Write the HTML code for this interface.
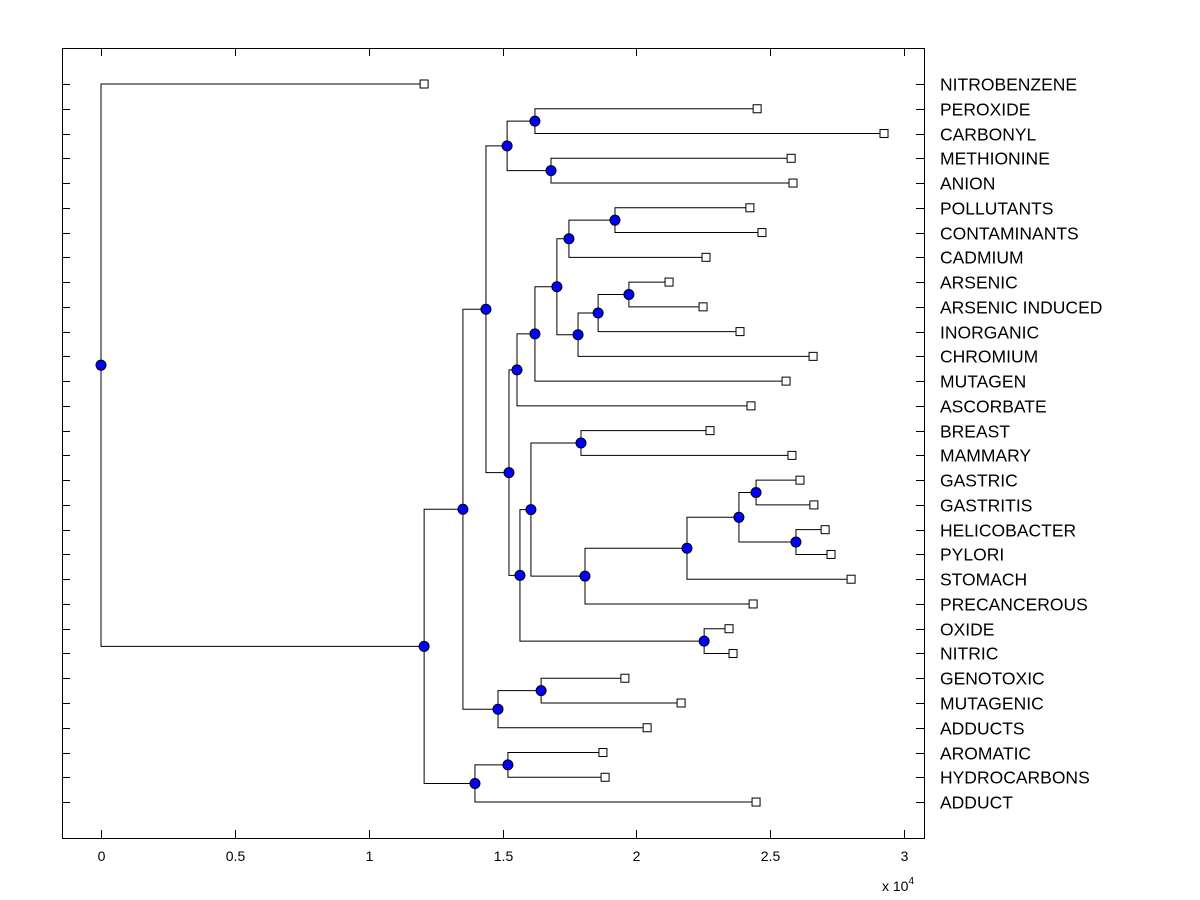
<!DOCTYPE html>
<html><head><meta charset="utf-8"><style>
html,body{margin:0;padding:0;background:#fff;}
svg{display:block;font-family:"Liberation Sans",Arial,sans-serif;}
</style></head><body>
<svg id="chart" width="1200" height="900" viewBox="0 0 1200 900" xmlns="http://www.w3.org/2000/svg">
<rect x="0" y="0" width="1200" height="900" fill="#fff"/>
<rect x="62.5" y="48.5" width="862" height="790" fill="#fff" stroke="#000" stroke-width="1"/>
<g id="axes"></g>
<g id="links"></g>
<g id="marks"></g>
<g id="labels"></g>
</svg>
<script>
const leafNames = ["NITROBENZENE","PEROXIDE","CARBONYL","METHIONINE","ANION","POLLUTANTS","CONTAMINANTS","CADMIUM","ARSENIC","ARSENIC INDUCED","INORGANIC","CHROMIUM","MUTAGEN","ASCORBATE","BREAST","MAMMARY","GASTRIC","GASTRITIS","HELICOBACTER","PYLORI","STOMACH","PRECANCEROUS","OXIDE","NITRIC","GENOTOXIC","MUTAGENIC","ADDUCTS","AROMATIC","HYDROCARBONS","ADDUCT"];
const leafValues = [1.207,2.451,2.925,2.578,2.585,2.424,2.469,2.260,2.122,2.249,2.387,2.660,2.559,2.428,2.275,2.581,2.611,2.663,2.705,2.727,2.802,2.436,2.346,2.361,1.957,2.167,2.040,1.875,1.883,2.447];
// merges: [childA, childB] ; "L#" leaf index, "N#" merge index
const mergeChildren = [
 ["L1","L2"],["L3","L4"],["N0","N1"],["L5","L6"],["N3","L7"],
 ["L8","L9"],["N5","L10"],["N6","L11"],["N4","N7"],["N8","L12"],
 ["N9","L13"],["L14","L15"],["L16","L17"],["L18","L19"],["N12","N13"],
 ["N14","L20"],["N15","L21"],["L22","L23"],["N11","N16"],["N18","N17"],
 ["N10","N19"],["N2","N20"],["L24","L25"],["N22","L26"],["N21","N23"],
 ["L27","L28"],["N25","L29"],["N24","N26"],["L0","N27"]
];
const mergeHeights = [1.621,1.681,1.517,1.920,1.748,1.972,1.857,1.782,1.703,1.621,1.554,1.793,2.447,2.596,2.383,2.189,1.808,2.253,1.606,1.565,1.524,1.438,1.644,1.483,1.352,1.520,1.397,1.207,0];
const xTicks = [0,0.5,1,1.5,2,2.5,3];
const xTickLabels = ["0","0.5","1","1.5","2","2.5","3"];

const NS="http://www.w3.org/2000/svg";
const xS = v => 101 + v*267.7;
const yS = i => 84 + i*24.76;
function mk(tag, attrs, parent){const e=document.createElementNS(NS,tag);for(const k in attrs)e.setAttribute(k,attrs[k]);parent.appendChild(e);return e;}
const axes=document.getElementById('axes'),links=document.getElementById('links'),marks=document.getElementById('marks'),labels=document.getElementById('labels');

leafNames.forEach((n,i)=>{
  const y=Math.round(yS(i))+0.5;
  let t=mk('line',{x1:62,x2:70,y1:y,y2:y,stroke:'#000'},axes);
  
  
  t=mk('line',{x1:916,x2:924,y1:y,y2:y,stroke:'#000'},axes);
  
  
  const l=mk('text',{x:940,y:y+6,'font-size':17.5,fill:'#000'},labels);
  l.textContent=n;
  
  
});
xTicks.forEach((v,i)=>{
  const x=Math.round(xS(v))+0.5;
  let t=mk('line',{x1:x,x2:x,y1:838,y2:830,stroke:'#000'},axes);
  
  
  t=mk('line',{x1:x,x2:x,y1:48,y2:56,stroke:'#000'},axes);
  
  
  const l=mk('text',{x:x,y:861,'font-size':14,'text-anchor':'middle',fill:'#000'},labels);
  l.textContent=xTickLabels[i];
  
  
});
const ex=mk('text',{x:882,y:891,'font-size':14,fill:'#000'},labels);
ex.innerHTML='x 10<tspan dy="-7" font-size="10">4</tspan>';



function pos(ref){
  const k=+ref.slice(1);
  if(ref[0]==='L') return {x:xS(leafValues[k]),y:yS(k)};
  const a=pos(mergeChildren[k][0]),b=pos(mergeChildren[k][1]);
  return {x:xS(mergeHeights[k]),y:(a.y+b.y)/2};
}
mergeChildren.forEach((ch,k)=>{
  const p=pos('N'+k);
  ch.forEach(c=>{
    const q=pos(c);
    const pl=mk('polyline',{points:`${p.x},${p.y} ${p.x},${q.y} ${q.x},${q.y}`,fill:'none',stroke:'#000','stroke-width':1},links);
    
    
  });
});
leafValues.forEach((v,i)=>{
  const q=pos('L'+i);
  const r=mk('rect',{x:q.x-4,y:q.y-4,width:8,height:8,fill:'#fff',stroke:'#000'},marks);
  
  
});
mergeHeights.forEach((h,k)=>{
  const p=pos('N'+k);
  const c=mk('circle',{cx:p.x,cy:p.y,r:5,fill:'#0000ff',stroke:'#000'},marks);
  
  
});
</script>
</body></html>
